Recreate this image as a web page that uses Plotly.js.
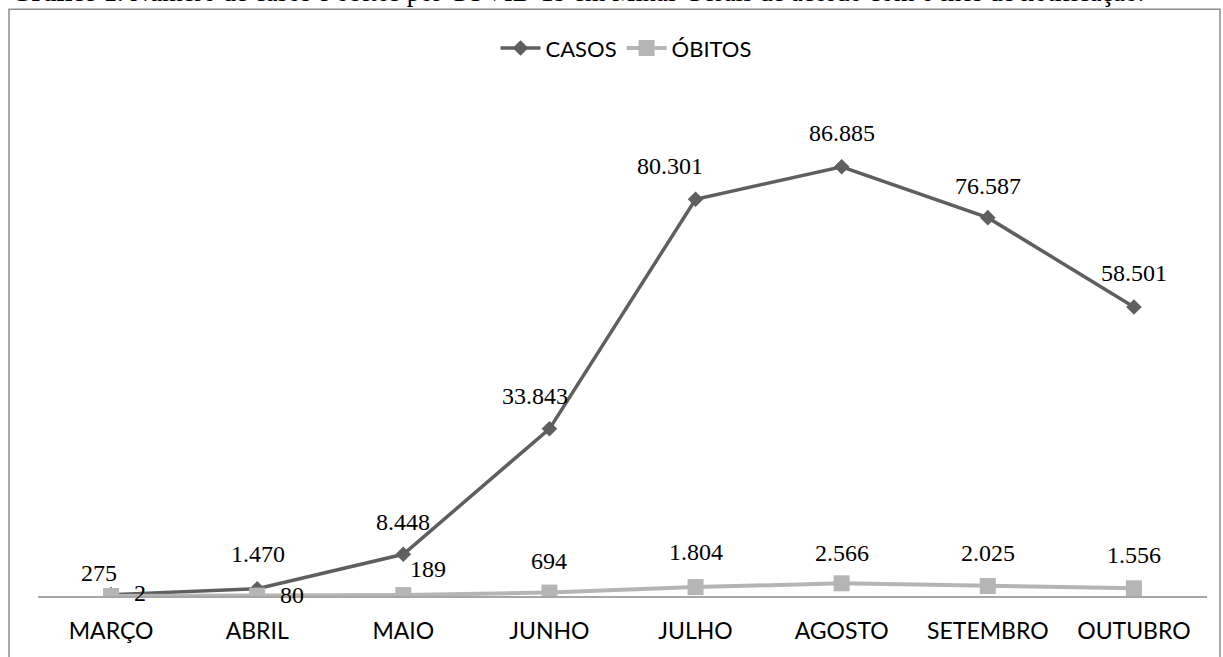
<!DOCTYPE html>
<html>
<head>
<meta charset="utf-8">
<script src="https://cdn.plot.ly/plotly-3.0.1.min.js"></script>
<style>html,body{margin:0;padding:0;background:#fff;}#chart{width:1223px;height:657px;}</style>
</head>
<body>
<div id="chart"></div>
<script>
const months = ["MARÇO","ABRIL","MAIO","JUNHO","JULHO","AGOSTO","SETEMBRO","OUTUBRO"];
const casos = [275, 1470, 8448, 33843, 80301, 86885, 76587, 58501];
const obitos = [2, 80, 189, 694, 1804, 2566, 2025, 1556];
const titleText = "<b>Gráfico 1.</b> Número de casos e óbitos por COVID-19 em Minas Gerais de acordo com o mês de notificação.";

// label offsets (style only)
const casosShift = [[-12,22],[1,35],[0,32],[-14,33],[-26,33],[0,34],[0,32],[0,34]];
const obitosShift = [[29,3],[35,1],[25,26],[0,32],[0,35],[0,30],[0,33],[0,33]];

function fmt(v){ return v.toString().replace(/\B(?=(\d{3})+(?!\d))/g, "."); }

const labelFont = {family:"Liberation Serif, Times New Roman, serif", size:24, color:"#000"};
const annotations = [];
casos.forEach((v,i)=>annotations.push({x:months[i], y:v, xref:"x", yref:"y", text:fmt(v), showarrow:false,
  xshift:casosShift[i][0], yshift:casosShift[i][1], font:labelFont}));
obitos.forEach((v,i)=>annotations.push({x:months[i], y:v, xref:"x", yref:"y", text:fmt(v), showarrow:false,
  xshift:obitosShift[i][0], yshift:obitosShift[i][1], font:labelFont}));
annotations.push({xref:"paper", yref:"paper", x:-0.024, y:1.19, xanchor:"left", yanchor:"bottom",
  text:titleText, showarrow:false, borderpad:0,
  font:{family:"Liberation Serif, Times New Roman, serif", size:26.3, color:"#000"}});

const traces = [
  {x:months, y:casos, name:"CASOS", type:"scatter", mode:"lines+markers",
   line:{color:"#5f5f5f", width:3.5}, marker:{symbol:"diamond", size:12, color:"#5f5f5f"}},
  {x:months, y:obitos, name:"ÓBITOS", type:"scatter", mode:"lines+markers",
   line:{color:"#b5b5b5", width:4}, marker:{symbol:"square", size:16, color:"#b5b5b5"}}
];

const layout = {
  width:1223, height:657,
  margin:{l:38, r:16, t:102, b:61},
  paper_bgcolor:"#fff", plot_bgcolor:"#fff",
  showlegend:true,
  legend:{orientation:"h", x:0.503, xanchor:"center", y:1.109, yanchor:"middle",
    font:{family:"Lato, sans-serif", size:22, color:"#000"}, itemwidth:40, bgcolor:"rgba(0,0,0,0)"},
  xaxis:{type:"category", range:[-0.5,7.5], showline:true, linecolor:"#a6a6a6", linewidth:2,
    showgrid:false, zeroline:false, ticks:"", tickfont:{family:"Lato, sans-serif", size:23, color:"#000"},
    ticklabelstandoff:13, fixedrange:true},
  yaxis:{range:[0,100000], visible:false, showgrid:false, zeroline:false, fixedrange:true},
  annotations:annotations,
  shapes:[{type:"rect", xref:"paper", yref:"paper", x0:-0.0248, x1:1.0111, y0:-0.2, y1:1.188,
    line:{color:"#8c8c8c", width:1.5}, fillcolor:"rgba(0,0,0,0)", layer:"below"}]
};

Plotly.newPlot("chart", traces, layout, {displayModeBar:false, staticPlot:true});
</script>
</body>
</html>
